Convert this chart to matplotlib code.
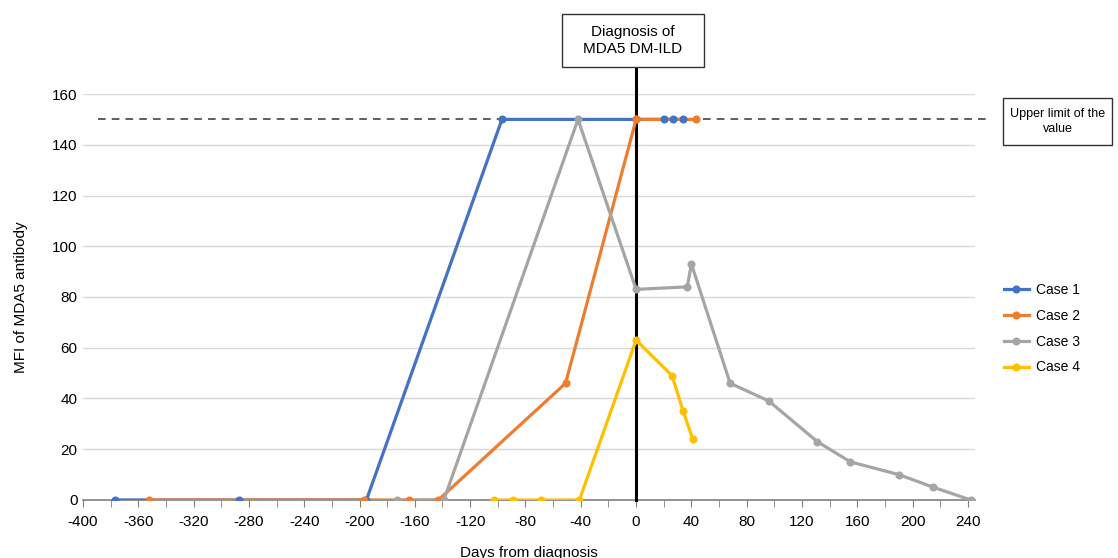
import matplotlib.pyplot as plt
from matplotlib.lines import Line2D
from matplotlib.patches import Rectangle

plt.rcParams['font.family'] = ['Liberation Sans', 'DejaVu Sans']
plt.rcParams['axes.unicode_minus'] = False

# days from diagnosis / MFI values
case1_days = [-377, -287, -195, -97, 0, 20, 27, 34]
case1_mfi = [0, 0, 0, 150, 150, 150, 150, 150]

case2_days = [-352, -197, -164, -143, -51, 0, 43]
case2_mfi = [0, 0, 0, 0, 46, 150, 150]

case3_days = [-173, -139, -42, 0, 37, 40, 68, 96, 131, 155, 190, 215, 242]
case3_mfi = [0, 0, 150, 83, 84, 93, 46, 39, 23, 15, 10, 5, 0]

case4_days = [-103, -89, -69, -41, 0, 26, 34, 41]
case4_mfi = [0, 0, 0, 0, 63, 49, 35, 24]

upper_limit = 150
labels = ['Case 1', 'Case 2', 'Case 3', 'Case 4']
colors = ['#4472C4', '#ED7D31', '#A5A5A5', '#FFC000']


def note_box(fig, x0, y0, x1, y1, text, size):
    fig.patches.append(Rectangle((x0, y0), x1 - x0, y1 - y0, transform=fig.transFigure,
                                 fc='white', ec='#333333', lw=1, zorder=20))
    fig.text((x0 + x1) / 2, (y0 + y1) / 2, text, ha='center', va='center',
             fontsize=size, linespacing=1.25, zorder=21)


def main():
    fig = plt.figure(figsize=(11.18, 5.58), dpi=100)
    ax = fig.add_axes([0.0742, 0.104, 0.7978, 0.7275])

    series = [(case1_days, case1_mfi), (case2_days, case2_mfi),
              (case3_days, case3_mfi), (case4_days, case4_mfi)]
    handles = []
    for i, (x, y) in enumerate(series):
        ax.plot(x, y, color=colors[i], lw=2.3, zorder=3 + i)
        ax.plot(x, y, ls='none', marker='o', ms=4.8, color=colors[i], zorder=10 + i)
        handles.append(Line2D([], [], color=colors[i], lw=2.3, marker='o', ms=4.8))

    ax.set_xlim(-400, 245)
    ax.set_ylim(0, 160)
    ax.set_xticks(range(-400, 241, 40))
    ax.set_xticks(range(-400, 241, 20), minor=True)
    ax.set_yticks(range(0, 161, 20))
    ax.tick_params(axis='x', which='both', direction='out', length=5, color='#7f7f7f',
                   labelsize=11, pad=6)
    ax.tick_params(axis='y', length=0, labelsize=11, pad=4)
    ax.grid(axis='y', color='#d9d9d9', lw=1)
    ax.set_axisbelow(True)
    for s in ['left', 'right', 'top']:
        ax.spines[s].set_visible(False)
    ax.spines['bottom'].set_color('#7f7f7f')
    ax.spines['bottom'].set_linewidth(1.2)
    ax.spines['bottom'].set_zorder(2)

    # upper limit dashed line, running past the axes
    ax.plot([-389, 253], [upper_limit, upper_limit], ls=(0, (5, 4)), color='#333333',
            lw=1.1, clip_on=False, zorder=2)

    # diagnosis line
    ax.plot([0, 0], [0, 171], color='black', lw=2.2, clip_on=False, zorder=2.5)

    ax.set_xlabel('Days from diagnosis', fontsize=11, labelpad=12)
    ax.set_ylabel('MFI of MDA5 antibody', fontsize=11, labelpad=17)

    note_box(fig, 0.5027, 0.8799, 0.6297, 0.9749, 'Diagnosis of\nMDA5 DM-ILD', 11)
    note_box(fig, 0.8971, 0.7401, 0.9946, 0.8244, 'Upper limit of the\nvalue', 9)

    fig.legend(handles, labels, loc='center left', bbox_to_anchor=(0.8866, 0.411),
               frameon=False, fontsize=10, handlelength=1.8, labelspacing=0.85,
               handletextpad=0.5)

    fig.savefig('out.png', dpi=100)


if __name__ == '__main__':
    main()
